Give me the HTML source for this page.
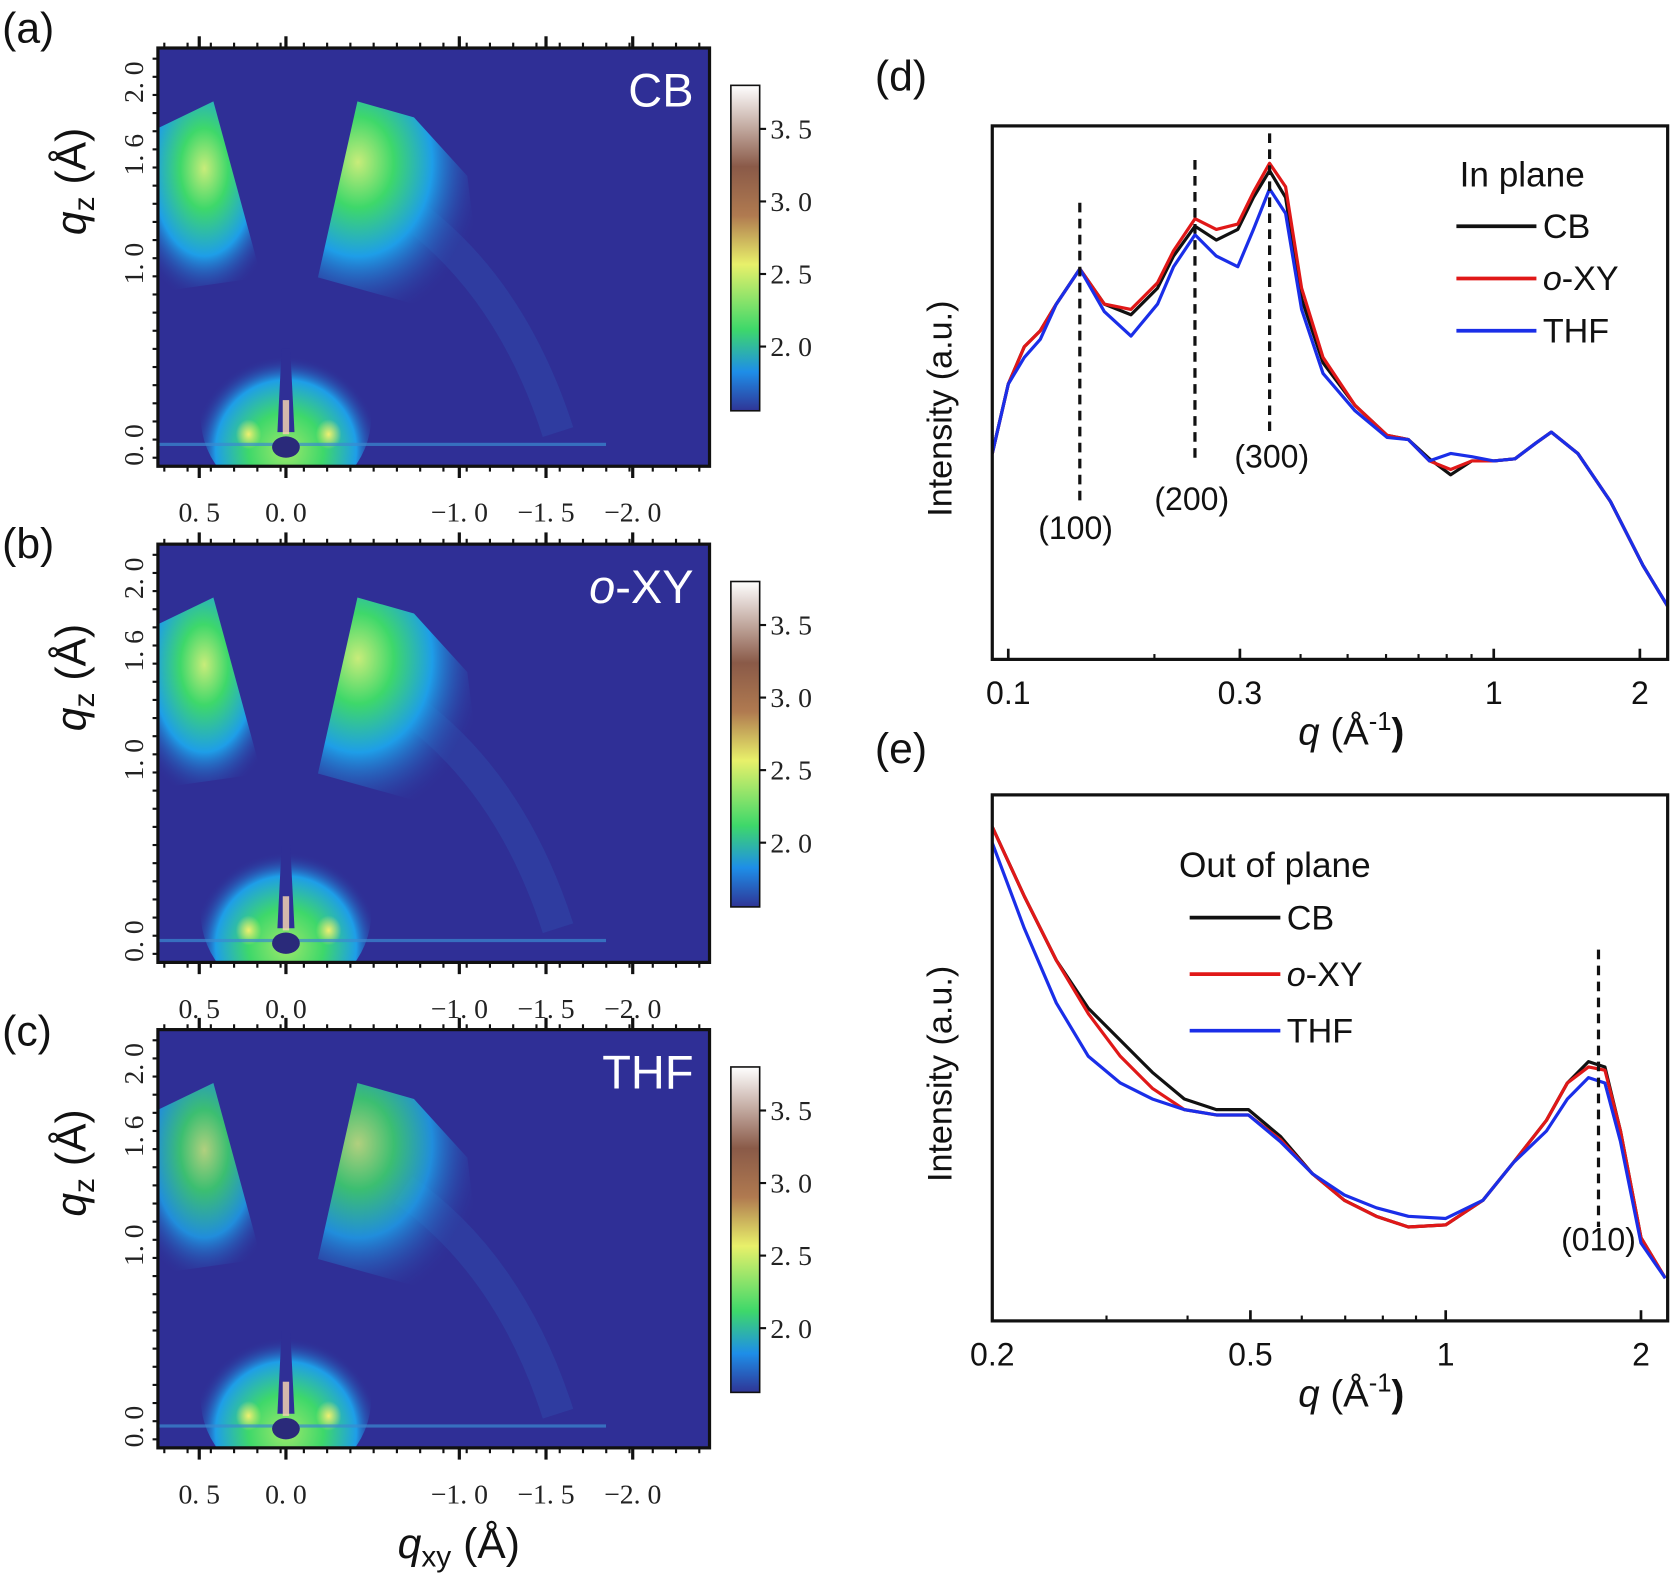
<!DOCTYPE html>
<html><head><meta charset="utf-8"><style>
html,body{margin:0;padding:0;background:#fff}
svg{display:block}
text{font-family:"Liberation Sans",sans-serif}
.serif{font-family:"Liberation Serif",serif}
</style></head><body>
<svg id="fig" width="1673" height="1583" viewBox="0 0 1673 1583" xmlns="http://www.w3.org/2000/svg">
<defs>
<radialGradient id="gL" cx="0.5" cy="0.35" r="0.7">
<stop offset="0" stop-color="#c8ec7a"/><stop offset="0.3" stop-color="#3ed86a"/><stop offset="0.65" stop-color="#1e9ee8"/><stop offset="1" stop-color="#2f2f96" stop-opacity="0"/></radialGradient>
<radialGradient id="gR" cx="0.25" cy="0.3" r="0.8">
<stop offset="0" stop-color="#c8ec7a"/><stop offset="0.28" stop-color="#3ed86a"/><stop offset="0.58" stop-color="#1e9ee8"/><stop offset="1" stop-color="#2f2f96" stop-opacity="0"/></radialGradient>
<radialGradient id="gB" cx="0.5" cy="0.7" r="0.55">
<stop offset="0" stop-color="#9ee86a"/><stop offset="0.4" stop-color="#3ed86a"/><stop offset="0.75" stop-color="#1e9ee8"/><stop offset="1" stop-color="#2f2f96" stop-opacity="0"/></radialGradient>
<radialGradient id="gY" cx="0.5" cy="0.5" r="0.5">
<stop offset="0" stop-color="#f0f070"/><stop offset="1" stop-color="#f0f070" stop-opacity="0"/></radialGradient>
<linearGradient id="cbar" x1="0" y1="1" x2="0" y2="0">
<stop offset="0" stop-color="#2f3596"/><stop offset="0.12" stop-color="#1e8ee8"/><stop offset="0.25" stop-color="#3ed86a"/><stop offset="0.45" stop-color="#e8f06a"/><stop offset="0.6" stop-color="#b07a50"/><stop offset="0.75" stop-color="#8a5a48"/><stop offset="1" stop-color="#ffffff"/></linearGradient>
</defs>
<g transform="scale(1.06696)">
<g id="maps"></g>
<g id="plots"></g>
</g>
</svg>
<script>
// ---------- Panel (d) data: in-plane ----------
const dQ = [0.0927,0.1,0.1079,0.1164,0.1256,0.1404,0.1577,0.179,0.203,0.219,0.2424,0.2683,0.297,0.32,0.3454,0.3726,0.402,0.445,0.518,0.603,0.667,0.737,0.815,0.901,1.0,1.106,1.223,1.314,1.49,1.74,2.03,2.28];
const dCB  = [193,258,293,308,333,366,333,323,348,378,406,393,403,433,458,433,338,278,238,210,206,188,173,186,186,188,203,213,193,148,88,50];
const dOXY = [193,258,293,308,333,366,333,328,353,383,413,403,408,438,465,443,348,283,238,210,206,186,178,186,186,188,203,213,193,148,88,50];
const dTHF = [193,258,283,300,333,366,326,303,333,368,398,378,368,403,441,418,328,268,233,208,206,186,193,190,186,188,203,213,193,148,88,50];
const dTicks = [0.1,0.3,1,2];
// ---------- Panel (e) data: out-of-plane ----------
const eQ = [0.2,0.2241,0.251,0.2812,0.3151,0.353,0.3955,0.443,0.4965,0.556,0.623,0.698,0.782,0.876,1.0,1.141,1.27,1.43,1.54,1.66,1.76,1.86,2.0,2.18];
const eCB  = [463,398,338,293,263,233,208,198,198,173,138,113,98,88,90,113,148,188,223,243,238,178,78,40];
const eOXY = [463,398,338,288,248,218,198,193,193,170,138,113,98,88,90,113,148,188,223,238,235,178,78,40];
const eTHF = [448,368,298,248,223,208,198,193,193,168,138,118,106,98,96,113,148,178,208,228,223,168,73,40];
const eTicks = [0.2,0.5,1,2];
// ---------- heatmap panels ----------
const panels = ['CB','o-XY','THF'];
const panelTops = [45,510,965];
const cbarLabels = ['3. 5','3. 0','2. 5','2. 0'];
const cbarVals = [3.5,3.0,2.5,2.0];
const qxyLabels = ['0. 5','0. 0','−1. 0','−1. 5','−2. 0'];
const qxyVals = [0.5,0.0,-1.0,-1.5,-2.0];
const qzLabels = ['0. 0','1. 0','1. 6','2. 0'];
const qzVals = [0.0,1.0,1.6,2.0];

const NS='http://www.w3.org/2000/svg';
function mk(tag, attrs, parent, txt){const e=document.createElementNS(NS,tag);for(const k in attrs)e.setAttribute(k,attrs[k]);if(txt!==undefined)e.textContent=txt;parent.appendChild(e);return e;}
const maps=document.getElementById('maps');
const plots=document.getElementById('plots');

const hx0=148,hx1=665,hh=392;
function qxyX(v){return 268-(v)*162.5;}
function qzY(top,v){return top+372-v*170;}
function cbY(top,v){return top+35+(3.8-v)*136;}

panels.forEach((name,i)=>{
  const t=panelTops[i];
  const g=mk('g',{},maps);
  
  
  const cp=mk('clipPath',{id:'hc'+i},g);
  mk('rect',{x:hx0,y:t,width:hx1-hx0,height:hh},cp);
  const inner=mk('g',{'clip-path':`url(#hc${i})`},g);
  mk('rect',{x:hx0,y:t,width:hx1-hx0,height:hh,fill:'#2f2f96'},inner);
  const s = i===2?0.85:1;
  mk('path',{d:`M${hx0+230},${t+150} Q${hx0+330},${t+220} ${hx0+375},${t+360}`,stroke:'#2e62c0',"stroke-width":30,fill:'none',opacity:0.25},inner);
  mk('polygon',{points:`${hx0-10},${t+80} ${hx0+52},${t+50} ${hx0+97},${t+215} ${hx0-10},${t+230}`,fill:'url(#gL)',opacity:s},inner);
  mk('polygon',{points:`${hx0+187},${t+50} ${hx0+150},${t+215} ${hx0+240},${t+240} ${hx0+300},${t+200} ${hx0+290},${t+120} ${hx0+240},${t+65}`,fill:'url(#gR)',opacity:s},inner);
  // lower lobe
  mk('ellipse',{cx:hx0+120,cy:t+345,rx:80,ry:80,fill:'url(#gB)'},inner);
  mk('ellipse',{cx:hx0+85,cy:t+362,rx:12,ry:14,fill:'url(#gY)'},inner);
  mk('ellipse',{cx:hx0+160,cy:t+362,rx:12,ry:14,fill:'url(#gY)'},inner);
  mk('polygon',{points:`${hx0+116},${t+282} ${hx0+124},${t+282} ${hx0+128},${t+360} ${hx0+112},${t+360}`,fill:'#2f2f96'},inner);
  mk('rect',{x:hx0+117,y:t+330,width:6,height:32,fill:'#f0d0b0',opacity:0.85},inner);
  mk('rect',{x:hx0,y:t+370,width:420,height:3,fill:'#3a8ad0',opacity:0.7},inner);
  mk('ellipse',{cx:hx0+120,cy:t+374,rx:13,ry:10,fill:'#2a2a7a'},inner);
  mk('rect',{x:hx0,y:t,width:hx1-hx0,height:hh,fill:'none',stroke:'#111','stroke-width':3},g);
  for(let x=hx0+6;x<hx1;x+=21.8){
    mk('line',{x1:x,y1:t,x2:x,y2:t-5,stroke:'#111','stroke-width':2},g);
    mk('line',{x1:x,y1:t+hh,x2:x,y2:t+hh+5,stroke:'#111','stroke-width':2},g);
  }
  for(let y=t+10;y<t+hh;y+=17){mk('line',{x1:hx0,y1:y,x2:hx0-5,y2:y,stroke:'#111','stroke-width':2},g);}
  qxyVals.forEach((v,k)=>{
    const x=qxyX(v);
    mk('line',{x1:x,y1:t+hh,x2:x,y2:t+hh+11,stroke:'#111','stroke-width':3},g);
    mk('line',{x1:x,y1:t,x2:x,y2:t-11,stroke:'#111','stroke-width':3},g);
    const lb=mk('text',{x:x,y:t+hh+52,'font-size':26,'text-anchor':'middle',class:'serif',fill:'#222'},g,qxyLabels[k]);
    
    
  });
  qzVals.forEach((v,k)=>{
    const y=qzY(t,v);
    const lb=mk('text',{x:0,y:0,'font-size':26,'text-anchor':'middle',class:'serif',fill:'#222',transform:`translate(134,${y}) rotate(-90)`},g,qzLabels[k]);
    
    
  });
  const yl=mk('text',{x:0,y:0,'font-size':40,'text-anchor':'middle',fill:'#111',transform:`translate(80,${t+125}) rotate(-90)`},g);
  
  
  mk('tspan',{'font-style':'italic'},yl,'q');
  mk('tspan',{'font-size':28,dy:8},yl,'z');
  mk('tspan',{dy:-8},yl,' (Å)');
  const tl=mk('text',{x:hx1-15,y:t+55,'font-size':44,'text-anchor':'end',fill:'#fff'},g);
  
  
  if(name==='o-XY'){mk('tspan',{'font-style':'italic'},tl,'o');mk('tspan',{},tl,'-XY');} else tl.textContent=name;
  const L=mk('text',{x:2,y:t-5+(i===2?20:0)+(i===1?18:0),'font-size':40,fill:'#111'},g,'('+'abc'[i]+')');
  
  
  const ct=t+35, ch=305;
  const cb=mk('rect',{x:685,y:ct,width:27,height:ch,fill:'url(#cbar)',stroke:'#111','stroke-width':1.5},g);
  
  
  cbarVals.forEach((v,k)=>{
    const y=cbY(t,v);
    mk('line',{x1:712,y1:y,x2:718,y2:y,stroke:'#111','stroke-width':2},g);
    const lb=mk('text',{x:722,y:y+9,'font-size':26,class:'serif',fill:'#222'},g,cbarLabels[k]);
    
    
  });
});
const xt=mk('text',{x:430,y:1460,'font-size':40,'text-anchor':'middle',fill:'#111'},maps);


mk('tspan',{'font-style':'italic'},xt,'q');
mk('tspan',{'font-size':28,dy:8},xt,'xy');
mk('tspan',{dy:-8},xt,' (Å)');

function makePlot(cfg){
  const g=mk('g',{},plots);
  
  
  const X=q=>cfg.x0+cfg.perDec*Math.log10(q/cfg.q0);
  const Y=v=>cfg.yb-v;
  const clip='clip-'+cfg.name;
  const cp=mk('clipPath',{id:clip},g);
  mk('rect',{x:cfg.l,y:cfg.t,width:cfg.r-cfg.l,height:cfg.yb-cfg.t},cp);
  cfg.series.forEach(s=>{
    const d=cfg.q.map((q,k)=>(k?'L':'M')+X(q).toFixed(1)+','+Y(s.v[k]).toFixed(1)).join(' ');
    const p=mk('path',{d:d,fill:'none',stroke:s.c,'stroke-width':3,'clip-path':`url(#${clip})`,'stroke-linejoin':'round'},g);
    
    
  });
  mk('rect',{x:cfg.l,y:cfg.t,width:cfg.r-cfg.l,height:cfg.yb-cfg.t,fill:'none',stroke:'#111','stroke-width':3},g);
  cfg.ticks.forEach(q=>{
    const x=X(q);
    mk('line',{x1:x,y1:cfg.yb,x2:x,y2:cfg.yb-10,stroke:'#111','stroke-width':2.5},g);
    const lb=mk('text',{x:x,y:cfg.yb+42,'font-size':30,'text-anchor':'middle',fill:'#111'},g,String(q));
    
    
  });
  for(let dec=-2;dec<1;dec++)for(let m=1;m<10;m++){const q=m*Math.pow(10,dec);const x=X(q);if(x>cfg.l&&x<cfg.r)mk('line',{x1:x,y1:cfg.yb,x2:x,y2:cfg.yb-5,stroke:'#111','stroke-width':2},g);}
  const xl=mk('text',{x:(cfg.l+cfg.r)/2+20,y:cfg.yb+80,'font-size':36,'text-anchor':'middle',fill:'#111'},g);
  
  
  mk('tspan',{'font-style':'italic'},xl,'q');
  mk('tspan',{},xl,' (Å');
  mk('tspan',{'font-size':24,dy:-14},xl,'-1');
  mk('tspan',{dy:14,'font-weight':'bold'},xl,')');
  const yl=mk('text',{x:0,y:0,'font-size':32,'text-anchor':'middle',fill:'#111',transform:`translate(${cfg.l-38},${(cfg.t+cfg.yb)/2+15}) rotate(-90)`},g,'Intensity (a.u.)');
  
  
  cfg.peaks.forEach(pk=>{
    const x=X(pk.q);
    const ln=mk('line',{x1:x,y1:pk.y1,x2:x,y2:pk.y2,stroke:'#111','stroke-width':3,'stroke-dasharray':'9,6'},g);
    
    
    const lb=mk('text',{x:x+(pk.dx||0),y:pk.ly,'font-size':30,'text-anchor':'middle',fill:'#111'},g,pk.label);
    
    
  });
  const lt=mk('text',{x:cfg.leg.x,y:cfg.leg.y,'font-size':33,fill:'#111'},g,cfg.leg.title);
  
  
  cfg.series.forEach((s,k)=>{
    const y=cfg.leg.y+cfg.leg.y0+k*cfg.leg.dy;
    const e=mk('g',{},g);
    
    
    mk('line',{x1:cfg.leg.lx,y1:y,x2:cfg.leg.lx+cfg.leg.lw,y2:y,stroke:s.c,'stroke-width':3.5},e);
    const tx=mk('text',{x:cfg.leg.lx+cfg.leg.lw+6,y:y+11,'font-size':32,fill:'#111'},e);
    if(s.n==='o-XY'){mk('tspan',{'font-style':'italic'},tx,'o');mk('tspan',{},tx,'-XY');}else tx.textContent=s.n;
  });
  const L=mk('text',{x:cfg.letter[0],y:cfg.letter[1],'font-size':40,fill:'#111'},g,cfg.letterText);
  
  
}
makePlot({name:'in-plane-plot',l:930,r:1563,t:118,yb:618,x0:945,q0:0.1,perDec:455,q:dQ,ticks:dTicks,
  series:[{n:'CB',c:'#111',v:dCB},{n:'o-XY',c:'#e01818',v:dOXY},{n:'THF',c:'#1a2ee8',v:dTHF}],
  peaks:[{q:0.1404,y1:190,y2:475,ly:505,label:'(100)',dx:-4},{q:0.2424,y1:150,y2:432,ly:478,label:'(200)',dx:-3},{q:0.3454,y1:125,y2:408,ly:438,label:'(300)',dx:2}],
  leg:{x:1368,y:175,title:'In plane',lx:1365,lw:75,y0:37,dy:49},letter:[820,85],letterText:'(d)'});
makePlot({name:'out-of-plane-plot',l:930,r:1563,t:745,yb:1238,x0:930,q0:0.2,perDec:608,q:eQ,ticks:eTicks,
  series:[{n:'CB',c:'#111',v:eCB},{n:'o-XY',c:'#e01818',v:eOXY},{n:'THF',c:'#1a2ee8',v:eTHF}],
  peaks:[{q:1.72,y1:890,y2:1150,ly:1172,label:'(010)',dx:0}],
  leg:{x:1105,y:822,title:'Out of plane',lx:1115,lw:85,y0:38,dy:53},letter:[820,715],letterText:'(e)'});
</script>
</body></html>
